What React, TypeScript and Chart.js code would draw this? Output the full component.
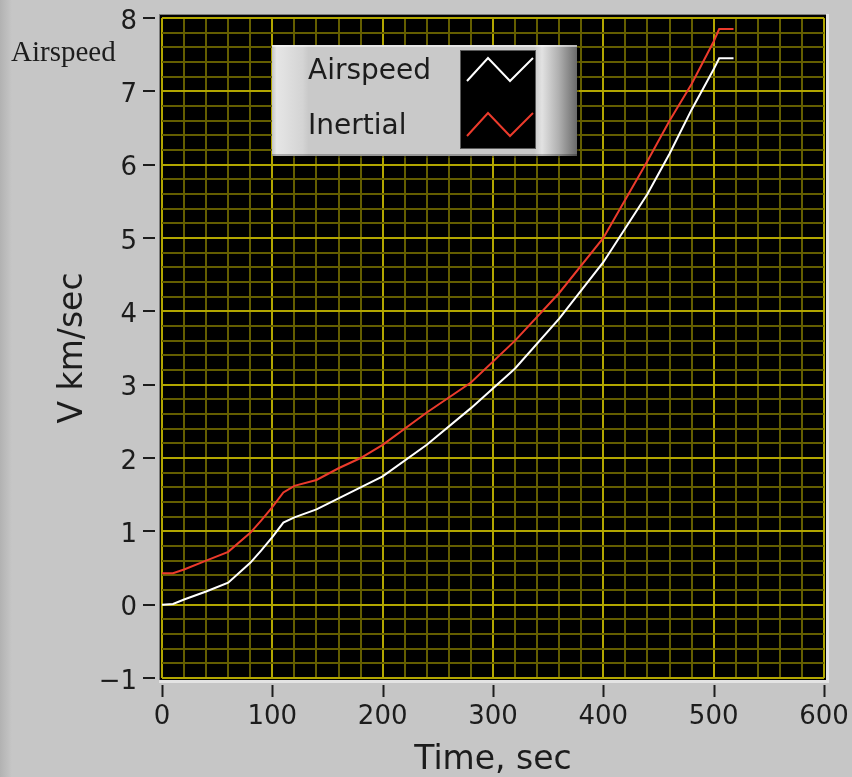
import React, { useEffect, useRef } from 'react';
import { Chart, registerables } from 'chart.js';

Chart.register(...registerables);

// ---- data ----
const timeSec = [0, 10, 20, 40, 60, 80, 90, 100, 110, 120, 140, 160, 180, 200, 240, 280, 320, 360, 400, 440, 460, 480, 500, 505, 518];
const airspeedKmS = [0, 0.01, 0.07, 0.18, 0.3, 0.57, 0.74, 0.92, 1.12, 1.19, 1.3, 1.45, 1.6, 1.75, 2.18, 2.68, 3.22, 3.9, 4.67, 5.6, 6.15, 6.75, 7.3, 7.45, 7.45];
const inertialKmS = [0.43, 0.43, 0.48, 0.6, 0.72, 0.98, 1.15, 1.33, 1.53, 1.62, 1.7, 1.86, 2.0, 2.18, 2.62, 3.03, 3.6, 4.25, 5.0, 6.05, 6.6, 7.1, 7.68, 7.85, 7.85];

const seriesNames = ['Airspeed', 'Inertial'];
const seriesColors = ['#ffffff', '#ec3b2c'];

const xMajorTicks = [0, 100, 200, 300, 400, 500, 600];
const yMajorTicks = [-1, 0, 1, 2, 3, 4, 5, 6, 7, 8];

const xTitle = 'Time, sec';
const yTitle = 'V km/sec';
const cornerLabel = 'Airspeed';

const SANS = '"DejaVu Sans", Verdana, sans-serif';
const SERIF = '"Liberation Serif", "Times New Roman", serif';
const TEXT = '#1c1c1c';
const GRID_MAJOR = 'rgb(178,166,0)';
const GRID_MINOR = 'rgb(100,94,0)';

const isMajor = (v: number, list: number[]) => list.some((m) => Math.abs(m - v) < 1e-6);

const zeroPad = (s: any) => {
  s.paddingTop = 0;
  s.paddingBottom = 0;
  s.paddingLeft = 0;
  s.paddingRight = 0;
};

const panelPlugin = {
  id: 'panel',
  beforeDraw(chart: any) {
    const { ctx, chartArea: a, width, height } = chart;
    ctx.save();
    ctx.fillStyle = '#c6c6c6';
    ctx.fillRect(0, 0, width, height);
    const g = ctx.createLinearGradient(0, 0, 12, 0);
    g.addColorStop(0, '#b2b2b2');
    g.addColorStop(1, '#c6c6c6');
    ctx.fillStyle = g;
    ctx.fillRect(0, 0, 12, height);
    const L = a.left - 2, T = a.top - 3, R = a.right + 2, B = a.bottom + 2;
    ctx.fillStyle = '#e4e4e4';
    ctx.fillRect(L - 1, T - 1, R - L + 4, B - T + 4);
    ctx.fillStyle = '#7c7c7c';
    ctx.fillRect(L - 1, T - 1, R - L + 1, B - T + 1);
    ctx.fillStyle = '#000';
    ctx.fillRect(L, T, R - L, B - T);
    ctx.restore();
  },
  afterDraw(chart: any) {
    const { ctx, chartArea: a } = chart;
    const xs = chart.scales.x;
    const ys = chart.scales.y;
    ctx.save();
    // tick marks
    ctx.strokeStyle = TEXT;
    ctx.lineWidth = 2;
    xMajorTicks.forEach((v) => {
      const px = Math.round(xs.getPixelForValue(v)) + 0.5;
      ctx.beginPath();
      ctx.moveTo(px, a.bottom + 7);
      ctx.lineTo(px, a.bottom + 19);
      ctx.stroke();
    });
    yMajorTicks.forEach((v) => {
      const py = Math.round(ys.getPixelForValue(v));
      ctx.beginPath();
      ctx.moveTo(a.left - 19, py);
      ctx.lineTo(a.left - 7, py);
      ctx.stroke();
    });
    // corner label
    ctx.fillStyle = TEXT;
    ctx.font = `29px ${SERIF}`;
    ctx.textAlign = 'left';
    ctx.textBaseline = 'middle';
    ctx.fillText(cornerLabel, 11, 53);

    // legend
    const lx = 272, ly = 45, lw = 305, lh = 111;
    ctx.fillStyle = 'rgba(0,0,0,0.35)';
    ctx.fillRect(lx + 2, ly + 2, lw, lh);
    const bg = ctx.createLinearGradient(lx, 0, lx + lw, 0);
    bg.addColorStop(0, '#c4c4c4');
    bg.addColorStop(0.015, '#e6e6e6');
    bg.addColorStop(0.1, '#d4d4d4');
    bg.addColorStop(0.12, '#c9c9c9');
    bg.addColorStop(0.86, '#c9c9c9');
    bg.addColorStop(0.885, '#e2e2e2');
    bg.addColorStop(0.94, '#b0b0b0');
    bg.addColorStop(1, '#6a6a6a');
    ctx.fillStyle = bg;
    ctx.fillRect(lx, ly, lw, lh);
    ctx.fillStyle = 'rgba(255,255,255,0.5)';
    ctx.fillRect(lx, ly, lw, 2);
    ctx.fillStyle = 'rgba(0,0,0,0.25)';
    ctx.fillRect(lx, ly + lh - 2, lw, 2);
    // swatch
    const sx = 461, sy = 51, sw = 74, sh = 97;
    ctx.fillStyle = '#000';
    ctx.fillRect(sx, sy, sw, sh);
    ctx.strokeStyle = '#5a5a5a';
    ctx.lineWidth = 1;
    ctx.strokeRect(sx - 0.5, sy - 0.5, sw + 1, sh + 1);
    const rows = [72, 127];
    chart.data.datasets.forEach((ds: any, i: number) => {
      const cy = rows[i];
      ctx.strokeStyle = ds.borderColor;
      ctx.lineWidth = 2;
      ctx.beginPath();
      ctx.moveTo(467, cy + 9);
      ctx.lineTo(488, cy - 14);
      ctx.lineTo(510, cy + 9);
      ctx.lineTo(533, cy - 14);
      ctx.stroke();
      ctx.fillStyle = TEXT;
      ctx.font = `28px ${SANS}`;
      ctx.textAlign = 'left';
      ctx.textBaseline = 'middle';
      ctx.fillText(ds.label, 308, cy);
    });
    ctx.restore();
  },
};

export default function App() {
  const ref = useRef<HTMLCanvasElement>(null);
  useEffect(() => {
    document.body.style.margin = '0';
    const chart = new Chart(ref.current as HTMLCanvasElement, {
      type: 'line',
      data: {
        datasets: [
          {
            label: seriesNames[0],
            data: timeSec.map((t, i) => ({ x: t, y: airspeedKmS[i] })),
            borderColor: seriesColors[0],
            borderWidth: 2,
            pointRadius: 0,
            tension: 0,
          },
          {
            label: seriesNames[1],
            data: timeSec.map((t, i) => ({ x: t, y: inertialKmS[i] })),
            borderColor: seriesColors[1],
            borderWidth: 2,
            pointRadius: 0,
            tension: 0,
          },
        ],
      },
      options: {
        responsive: false,
        animation: false,
        layout: { padding: { top: 18, right: 28, left: 0, bottom: 0 } },
        plugins: { legend: { display: false }, tooltip: { enabled: false } },
        scales: {
          x: {
            type: 'linear',
            min: 0,
            max: 600,
            afterFit: (s: any) => { s.height = 99; zeroPad(s); },
            border: { display: false },
            grid: {
              drawTicks: false,
              lineWidth: 2,
              color: (c: any) => (isMajor(c.tick.value, xMajorTicks) ? GRID_MAJOR : GRID_MINOR),
            },
            ticks: {
              stepSize: 20,
              autoSkip: false,
              maxRotation: 0,
              padding: 24,
              color: TEXT,
              font: { family: SANS, size: 26 },
              callback: (v: any) => (isMajor(Number(v), xMajorTicks) ? String(Math.round(Number(v))) : ''),
            },
            title: {
              display: true,
              text: xTitle,
              color: TEXT,
              font: { family: SANS, size: 33, lineHeight: 1 },
              padding: { top: 0, bottom: 0 },
            },
          },
          y: {
            type: 'linear',
            min: -1,
            max: 8,
            afterFit: (s: any) => { s.width = 162; zeroPad(s); },
            border: { display: false },
            grid: {
              drawTicks: false,
              lineWidth: 2,
              color: (c: any) => (isMajor(c.tick.value, yMajorTicks) ? GRID_MAJOR : GRID_MINOR),
            },
            ticks: {
              stepSize: 0.2,
              autoSkip: false,
              padding: 25,
              labelOffset: 4,
              color: TEXT,
              font: { family: SANS, size: 26 },
              callback: (v: any) => {
                const n = Number(v);
                if (!isMajor(n, yMajorTicks)) return '';
                const r = Math.round(n);
                return r < 0 ? '\u2212' + Math.abs(r) : String(r);
              },
            },
            title: {
              display: true,
              text: yTitle,
              color: TEXT,
              font: { family: SANS, size: 33 },
              padding: { top: 54, bottom: 0 },
            },
          },
        },
      } as any,
      plugins: [panelPlugin],
    });
    return () => chart.destroy();
  }, []);
  return (
    <div style={{ width: 852, height: 777 }}>
      <canvas ref={ref} width={852} height={777} style={{ display: 'block' }} />
    </div>
  );
}
